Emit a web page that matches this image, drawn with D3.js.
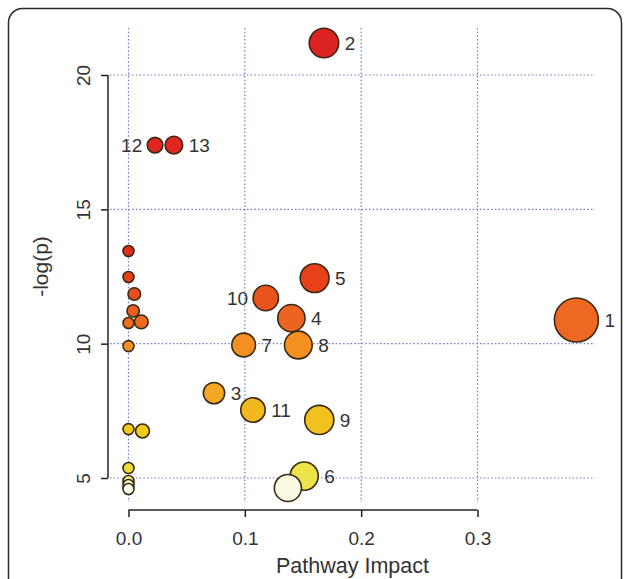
<!DOCTYPE html>
<html>
<head>
<meta charset="utf-8">
<script src="https://cdn.jsdelivr.net/npm/d3@7"></script>
<style>
  html, body { margin: 0; padding: 0; background: #fff; }
  svg { display: block; font-family: "Liberation Sans", Arial, Helvetica, sans-serif; }
</style>
</head>
<body>
<svg id="chart" width="630" height="579"></svg>
<script>
// Pathway topology analysis: impact vs. significance
const impact = [0.385, 0.168, 0.0228, 0.039, 0.160, 0.118, 0.140, 0.099, 0.146,
                0.0735, 0.107, 0.164, 0.151, 0.137,
                0, 0, 0.005, 0.004, 0, 0.011, 0, 0, 0.012, 0, 0, 0, 0];
const negLogP = [10.88, 21.19, 17.39, 17.39, 12.44, 11.70, 10.95, 9.95, 9.95,
                 8.16, 7.53, 7.16, 5.07, 4.63,
                 13.45, 12.48, 11.85, 11.22, 10.77, 10.81, 9.91, 6.82, 6.75, 5.37, 4.89, 4.74, 4.59];
const pointLabels = ["1", "2", "12", "13", "5", "10", "4", "7", "8",
                     "3", "11", "9", "6", "",
                     "", "", "", "", "", "", "", "", "", "", "", "", ""];
const labelsOnLeft = ["12", "10"];

const xTicks = [0.0, 0.1, 0.2, 0.3];
const yTicks = [5, 10, 15, 20];

const svg = d3.select("#chart");
const plot = { left: 110, right: 595, top: 28, bottom: 505 };

// Outer frame
svg.append("rect")
  .attr("x", 8.5).attr("y", 8.5)
  .attr("width", 613).attr("height", 620)
  .attr("rx", 14).attr("ry", 14)
  .attr("fill", "#fff").attr("stroke", "#2b2b2b").attr("stroke-width", 1.5);

const x = d3.scaleLinear().domain([-0.0159, 0.401]).range([plot.left, plot.right]);
const y = d3.scaleLinear().domain([3.995, 21.75]).range([plot.bottom, plot.top]);

// Heat colours keyed to significance
const color = d3.scaleLinear()
  .domain([4.5, 4.75, 5.1, 6.8, 8.2, 10, 11, 12.4, 13.5, 21.5])
  .range(["#ffffff", "#f7f3c6", "#ece23e", "#f1cb1c", "#f3a623", "#f38f1f", "#ec6320", "#e7421a", "#e02b1f", "#dd2222"])
  .clamp(true);

// Bubble radius keyed to pathway impact
const radius = d3.scalePow().exponent(0.7).domain([0, 0.385]).range([5.5, 22]);

// Dotted grid
const grid = svg.append("g")
  .attr("stroke", "#6a7bc8").attr("stroke-width", 1.2).attr("stroke-dasharray", "1.5,2.2");
grid.selectAll("line.v").data(xTicks).join("line").attr("class", "v")
  .attr("x1", d => x(d)).attr("x2", d => x(d))
  .attr("y1", plot.top).attr("y2", 502);
grid.selectAll("line.h").data(yTicks).join("line").attr("class", "h")
  .attr("x1", plot.left).attr("x2", plot.right)
  .attr("y1", d => y(d)).attr("y2", d => y(d));

// Axes (R style: line spans the extreme ticks)
const xAxis = svg.append("g").attr("transform", "translate(0,510)")
  .call(d3.axisBottom(x).tickValues(xTicks).tickFormat(d3.format(".1f")).tickSizeOuter(0).tickSize(7).tickPadding(15));
const yAxis = svg.append("g").attr("transform", "translate(108,0)")
  .call(d3.axisLeft(y).tickValues(yTicks).tickSizeOuter(0).tickSize(7).tickPadding(8));

[xAxis, yAxis].forEach(g => {
  g.select(".domain").remove();
  g.selectAll(".tick line").attr("stroke", "#222").attr("stroke-width", 1.5);
  g.selectAll("text").attr("fill", "#333").style("font-size", "19px")
    .style("font-family", "Liberation Sans, Arial, sans-serif");
});
xAxis.append("line")
  .attr("x1", x(xTicks[0])).attr("x2", x(xTicks[xTicks.length - 1]))
  .attr("stroke", "#222").attr("stroke-width", 1.5);
yAxis.append("line")
  .attr("y1", y(yTicks[0])).attr("y2", y(yTicks[yTicks.length - 1]))
  .attr("stroke", "#222").attr("stroke-width", 1.5);
// Rotated y tick labels
yAxis.selectAll(".tick text")
  .attr("text-anchor", "middle")
  .attr("x", null)
  .attr("transform", "translate(-25,0) rotate(-90)")
  .attr("dy", "0.35em");

// Axis titles, centred on the plot region
svg.append("text")
  .attr("x", (plot.left + plot.right) / 2).attr("y", 573)
  .attr("text-anchor", "middle").attr("fill", "#333")
  .style("font-size", "21.5px").text("Pathway Impact");
svg.append("text")
  .attr("transform", `translate(48,${(plot.top + plot.bottom) / 2}) rotate(-90)`)
  .attr("text-anchor", "middle").attr("fill", "#333")
  .style("font-size", "21px").text("-log(p)");

// Bubbles, most significant drawn first
const pts = impact.map((v, i) => ({ impact: v, p: negLogP[i], label: pointLabels[i] }))
  .sort((a, b) => b.p - a.p);

svg.append("g").selectAll("circle").data(pts).join("circle")
  .attr("cx", d => x(d.impact))
  .attr("cy", d => y(d.p))
  .attr("r", d => radius(d.impact))
  .attr("fill", d => color(d.p))
  .attr("stroke", "#3a2a14").attr("stroke-width", 1.6);

// Pathway number labels
svg.append("g").selectAll("text").data(pts.filter(d => d.label)).join("text")
  .attr("x", d => labelsOnLeft.includes(d.label)
    ? x(d.impact) - radius(d.impact) - 5
    : x(d.impact) + radius(d.impact) + 6)
  .attr("y", d => y(d.p))
  .attr("dy", "0.36em")
  .attr("text-anchor", d => labelsOnLeft.includes(d.label) ? "end" : "start")
  .attr("fill", "#333").style("font-size", "19px")
  .text(d => d.label);
</script>
</body>
</html>
